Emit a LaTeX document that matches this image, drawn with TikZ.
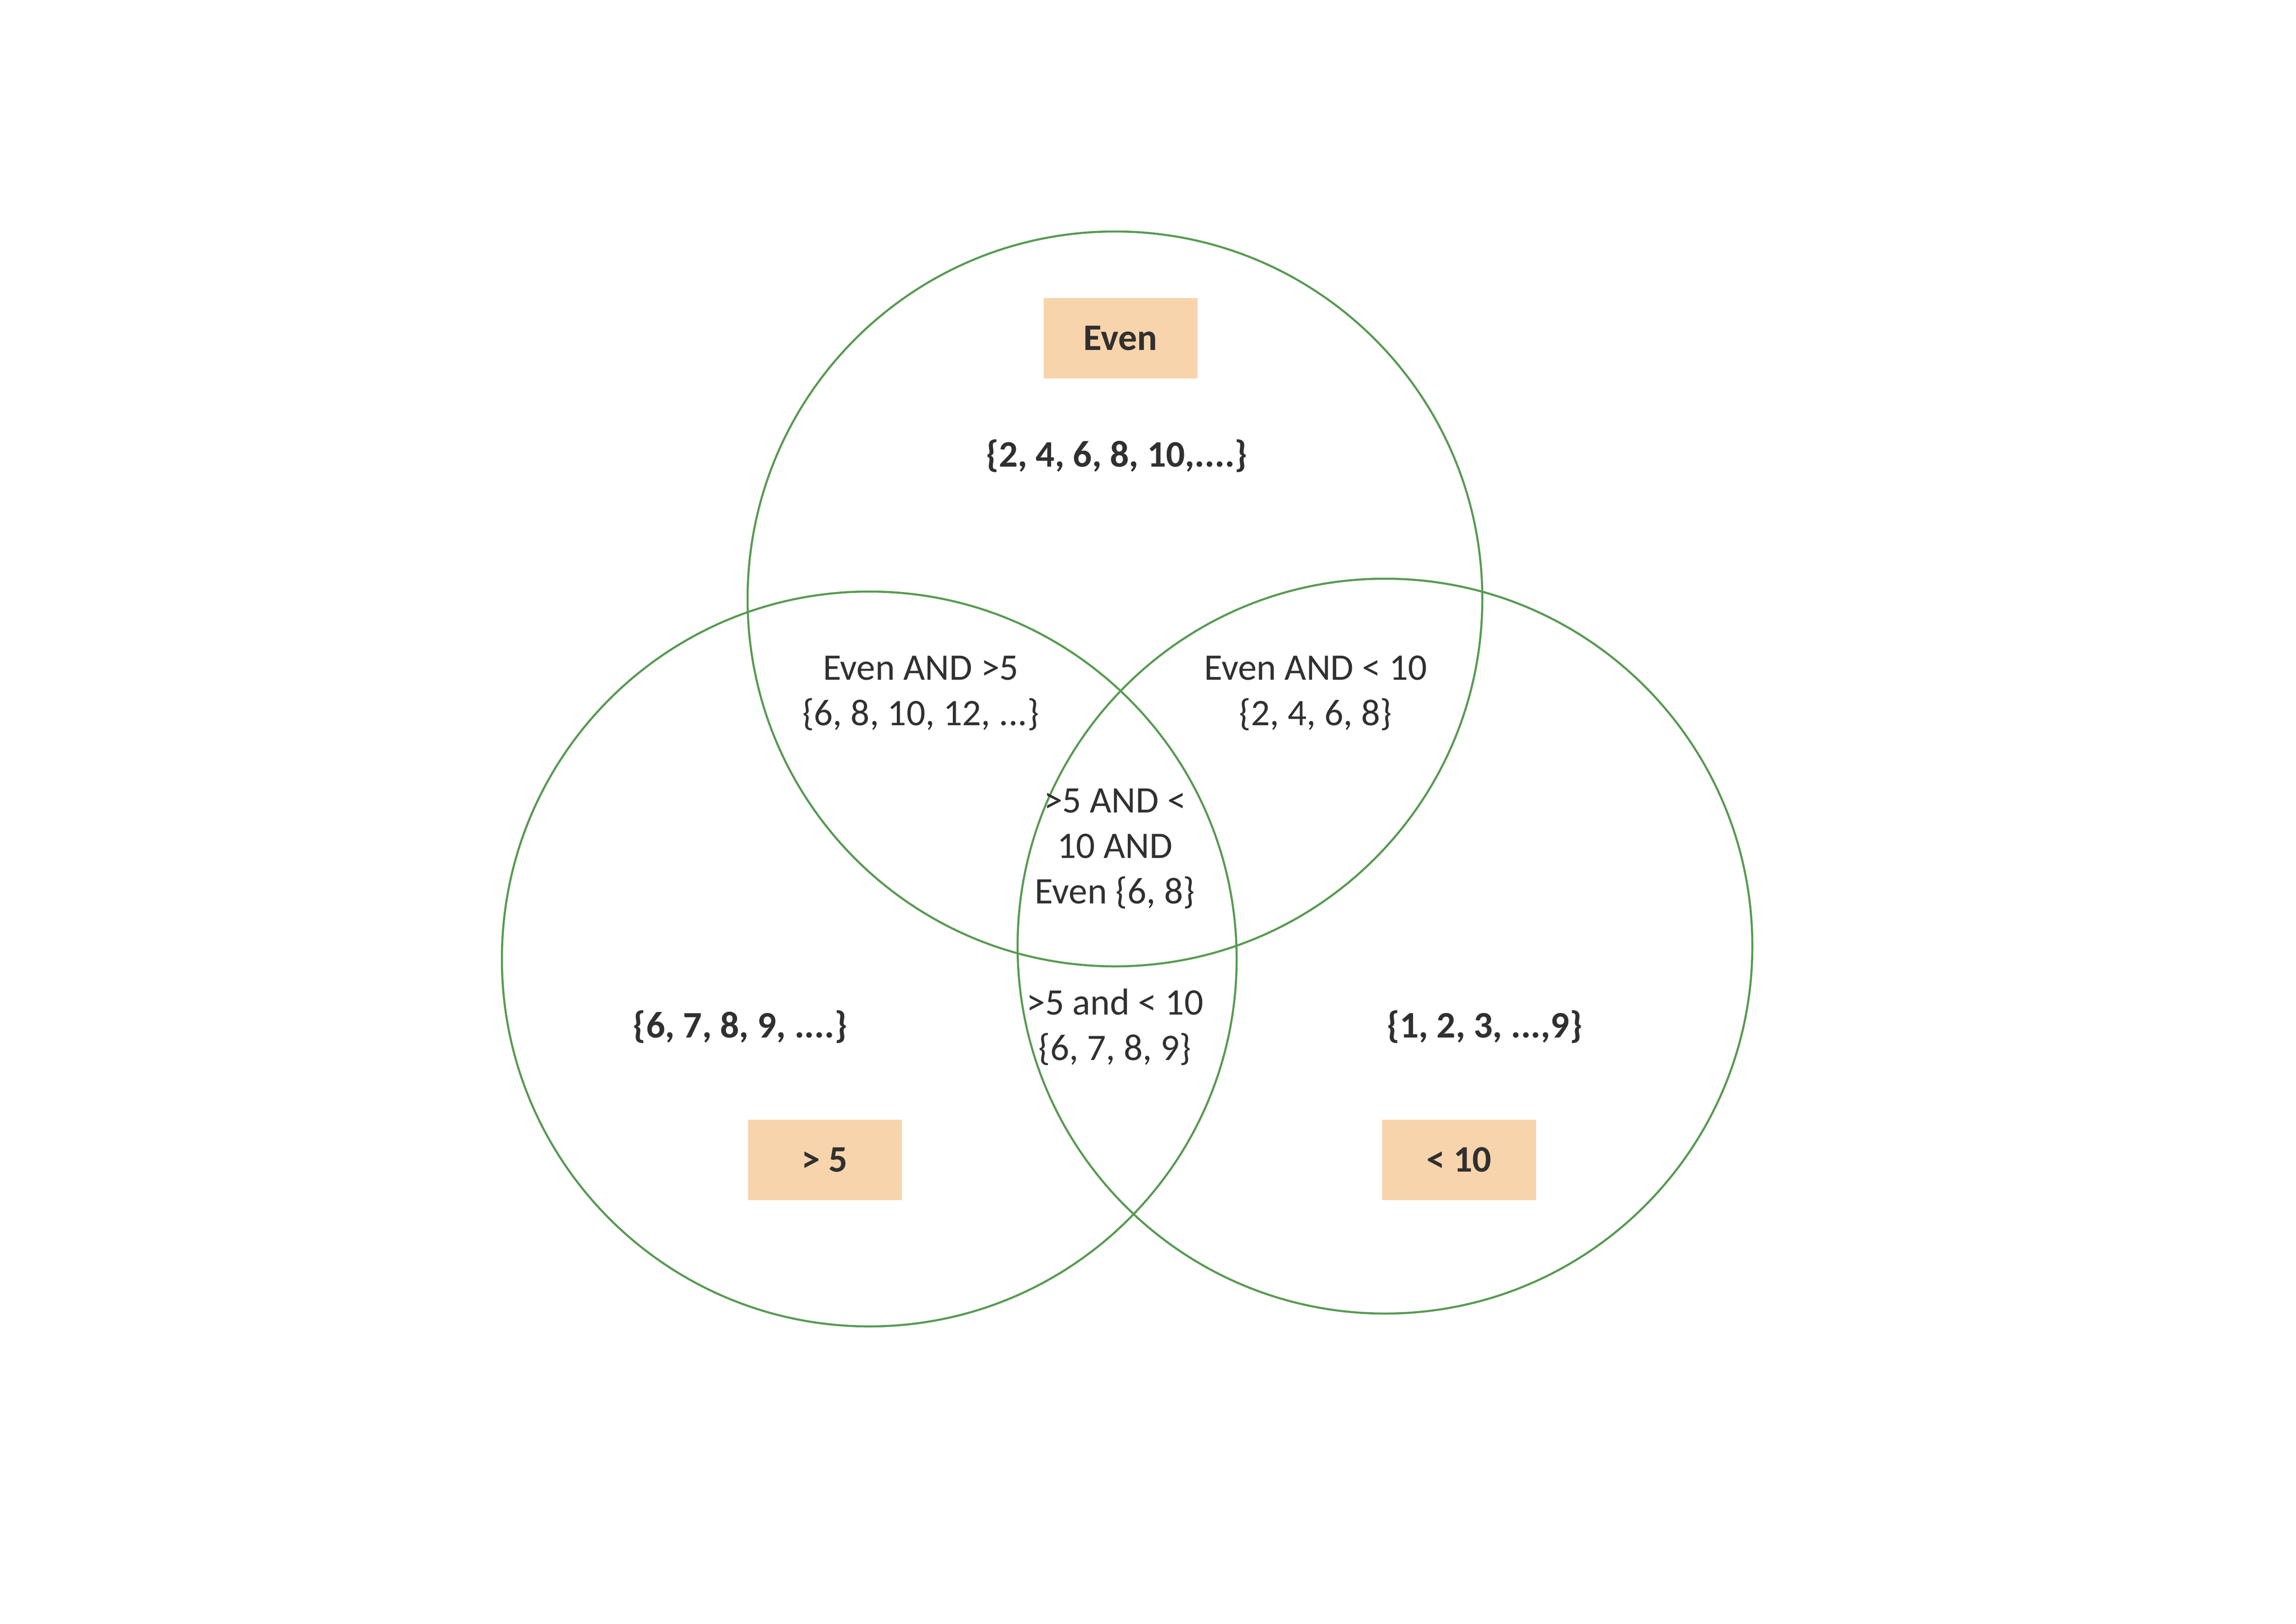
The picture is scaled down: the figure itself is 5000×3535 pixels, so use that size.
\documentclass[tikz,border=0pt]{standalone}
\usepackage{fontspec}
\setmainfont{Carlito}
\definecolor{venngreen}{RGB}{88,154,82}
\definecolor{peach}{RGB}{247,212,172}
\definecolor{txt}{RGB}{48,48,48}
\begin{document}
\begin{tikzpicture}[x=0.2pt,y=-0.2pt,
  setcircle/.style={circle,draw=venngreen,line width=0.9pt,minimum size=320pt,inner sep=0pt},
  labelbox/.style={fill=peach,minimum width=67pt,minimum height=35pt,inner sep=0pt,text=txt,font=\fontsize{16.3}{19.8}\selectfont\bfseries},
  settext/.style={text=txt,align=center,inner sep=0pt,font=\fontsize{16.3}{19.8}\selectfont},
  boldtext/.style={settext,font=\fontsize{16.3}{19.8}\selectfont\bfseries}]
\useasboundingbox (0,0) rectangle (5000,3535);
\fill[white] (0,0) rectangle (5000,3535);
\node[setcircle] (even) at (2428,1304) {};
\node[setcircle] (gt) at (1893,2088) {};
\node[setcircle] (lt) at (3016,2060) {};
\node[labelbox] (evenbox) at (2440,736) {Even};
\node[labelbox] (gtbox) at (1796,2525) {> 5};
\node[labelbox] (ltbox) at (3177,2525) {< 10};
\node[boldtext] (evenset) at (2432,993) {\{2, 4, 6, 8, 10,....\}};
\node[boldtext] (gtset) at (1612,2236) {\{6, 7, 8, 9, ....\}};
\node[boldtext] (ltset) at (3233,2236) {\{1, 2, 3, ...,9\}};
\node[settext] (evengt) at (2005,1509) {Even AND >5\\\{6, 8, 10, 12, ...\}};
\node[settext] (evenlt) at (2865,1509) {Even AND < 10\\\{2, 4, 6, 8\}};
\node[settext] (all) at (2428,1848) {>5 AND <\\10 AND\\Even \{6, 8\}};
\node[settext] (gtlt) at (2428,2236) {>5 and < 10\\\{6, 7, 8, 9\}};
\end{tikzpicture}
\end{document}
